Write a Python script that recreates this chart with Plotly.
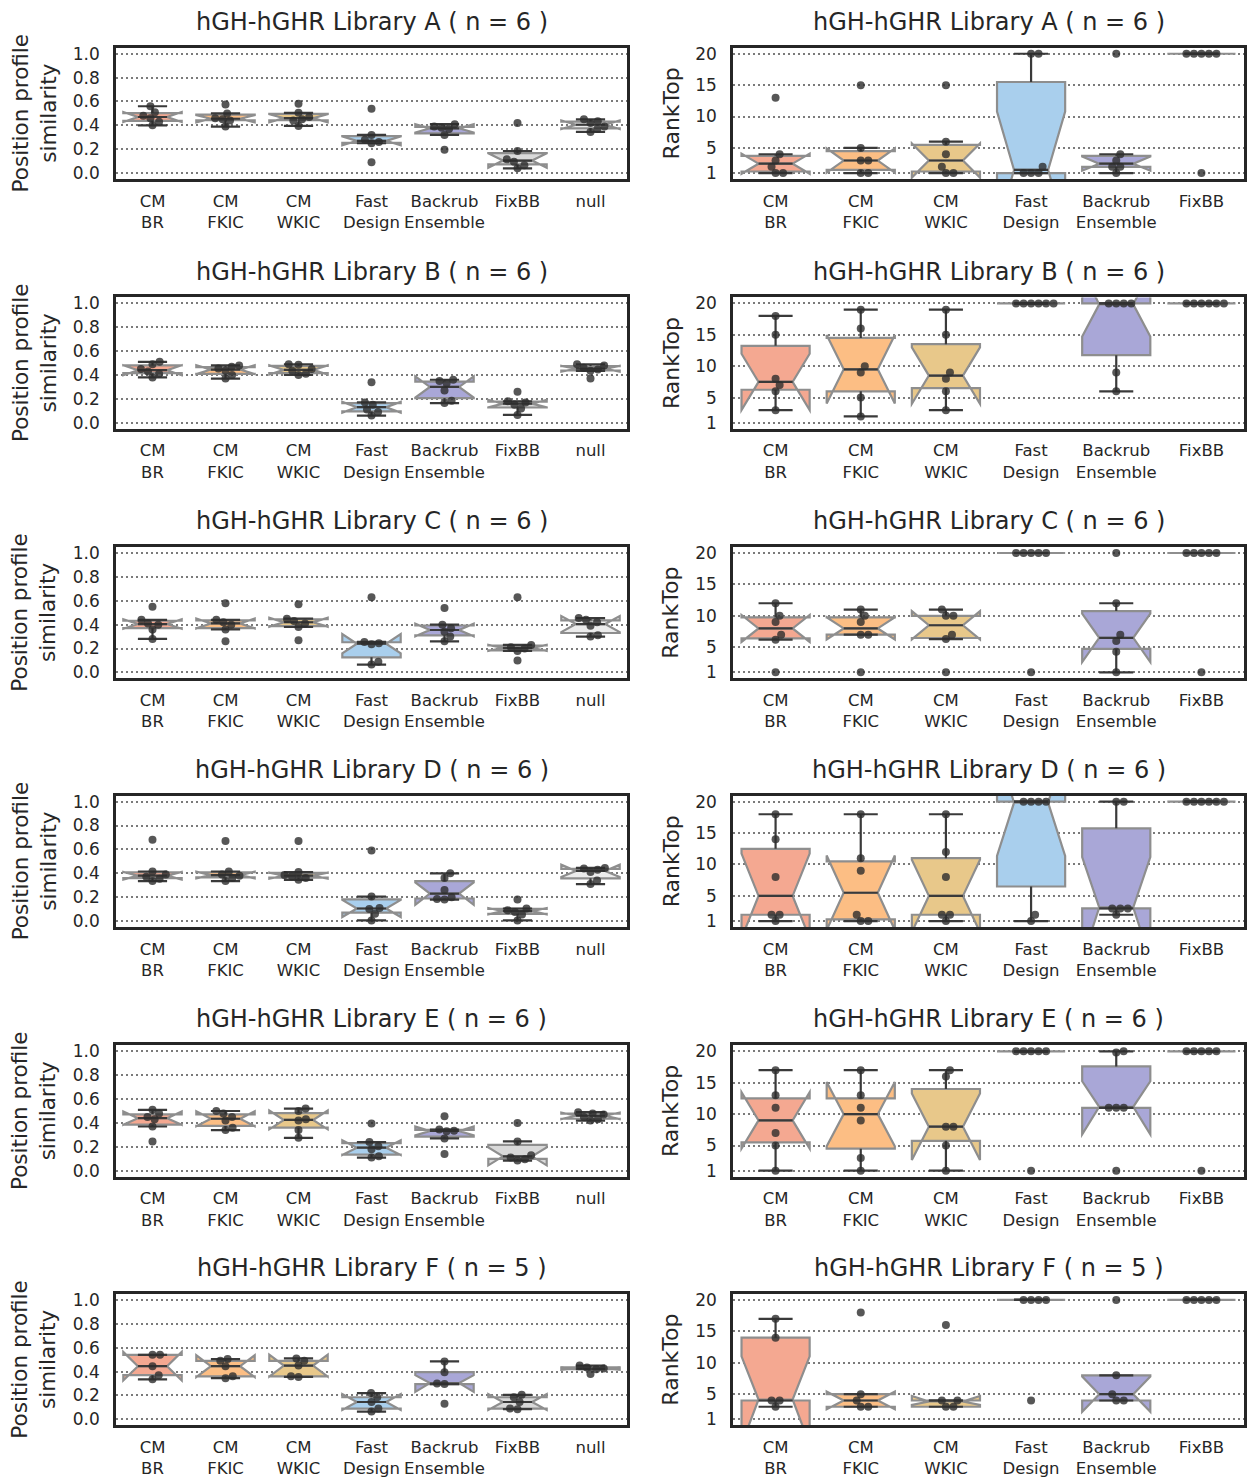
import numpy as np
import plotly.graph_objects as go
from plotly.subplots import make_subplots

# ---------------- data ----------------
SIM_CATS = ["CM<br>BR", "CM<br>FKIC", "CM<br>WKIC", "Fast<br>Design",
            "Backrub<br>Ensemble", "FixBB", "null"]
RANK_CATS = SIM_CATS[:6]
LIBS = ["A", "B", "C", "D", "E", "F"]
N_DESIGNS = [6, 6, 6, 6, 6, 5]
SIM_TICKS = [0.0, 0.2, 0.4, 0.6, 0.8, 1.0]
SIM_TICKTEXT = ["0.0", "0.2", "0.4", "0.6", "0.8", "1.0"]
RANK_TICKS = [1, 5, 10, 15, 20]

# Position profile similarity, per library: CM BR, CM FKIC, CM WKIC, Fast Design, Backrub Ens., FixBB, null
SIM_A = [[0.40, 0.43, 0.46, 0.48, 0.51, 0.56],
         [0.39, 0.44, 0.45, 0.46, 0.50, 0.575],
         [0.395, 0.44, 0.45, 0.47, 0.505, 0.58],
         [0.09, 0.25, 0.26, 0.28, 0.32, 0.54],
         [0.195, 0.32, 0.37, 0.38, 0.39, 0.41],
         [0.04, 0.065, 0.095, 0.115, 0.185, 0.42],
         [0.345, 0.37, 0.39, 0.42, 0.435, 0.45]]
SIM_B = [[0.38, 0.41, 0.43, 0.45, 0.49, 0.51],
         [0.37, 0.40, 0.435, 0.455, 0.47, 0.48],
         [0.40, 0.41, 0.435, 0.45, 0.485, 0.49],
         [0.06, 0.09, 0.11, 0.15, 0.17, 0.34],
         [0.165, 0.185, 0.27, 0.33, 0.35, 0.36],
         [0.065, 0.12, 0.15, 0.17, 0.18, 0.26],
         [0.37, 0.435, 0.445, 0.46, 0.48, 0.49]]
SIM_C = [[0.28, 0.36, 0.40, 0.41, 0.44, 0.55],
         [0.26, 0.36, 0.40, 0.42, 0.44, 0.58],
         [0.27, 0.38, 0.41, 0.43, 0.45, 0.57],
         [0.065, 0.09, 0.235, 0.245, 0.255, 0.63],
         [0.26, 0.30, 0.34, 0.37, 0.40, 0.54],
         [0.10, 0.18, 0.20, 0.21, 0.23, 0.63],
         [0.30, 0.31, 0.39, 0.42, 0.44, 0.455]]
SIM_D = [[0.335, 0.355, 0.37, 0.39, 0.415, 0.68],
         [0.335, 0.36, 0.38, 0.39, 0.415, 0.67],
         [0.345, 0.36, 0.375, 0.385, 0.41, 0.67],
         [0.005, 0.06, 0.10, 0.11, 0.205, 0.59],
         [0.18, 0.185, 0.20, 0.26, 0.36, 0.40],
         [0.005, 0.055, 0.075, 0.09, 0.105, 0.18],
         [0.31, 0.34, 0.41, 0.43, 0.44, 0.445]]
SIM_E = [[0.245, 0.37, 0.43, 0.45, 0.48, 0.51],
         [0.34, 0.36, 0.42, 0.45, 0.48, 0.50],
         [0.275, 0.34, 0.42, 0.43, 0.50, 0.52],
         [0.11, 0.12, 0.18, 0.205, 0.24, 0.395],
         [0.14, 0.27, 0.33, 0.335, 0.345, 0.455],
         [0.085, 0.095, 0.11, 0.13, 0.245, 0.40],
         [0.42, 0.43, 0.45, 0.47, 0.48, 0.49]]
SIM_F = [[0.335, 0.37, 0.445, 0.54, 0.54],
         [0.345, 0.36, 0.445, 0.49, 0.505],
         [0.355, 0.36, 0.45, 0.49, 0.51],
         [0.065, 0.09, 0.145, 0.185, 0.22],
         [0.13, 0.295, 0.30, 0.395, 0.485],
         [0.085, 0.09, 0.145, 0.185, 0.205],
         [0.38, 0.42, 0.425, 0.435, 0.45]]

# RankTop, per library: CM BR, CM FKIC, CM WKIC, Fast Design, Backrub Ens., FixBB
RANK_A = [[1, 1, 2, 3, 4, 13],
          [1, 1, 3, 3, 5, 15],
          [1, 1, 2, 4, 6, 15],
          [1, 1, 1, 2, 20, 20],
          [1, 2, 2, 3, 4, 20],
          [1, 20, 20, 20, 20, 20]]
RANK_B = [[3, 6, 7, 8, 15, 18],
          [2, 5, 9, 10, 16, 19],
          [3, 6, 8, 9, 15, 19],
          [20, 20, 20, 20, 20, 20],
          [6, 9, 20, 20, 20, 20],
          [20, 20, 20, 20, 20, 20]]
RANK_C = [[1, 6.2, 7, 9, 10, 12],
          [1, 7, 7, 9, 10, 11],
          [1, 6.3, 7, 10, 10, 11],
          [1, 20, 20, 20, 20, 20],
          [1, 4.3, 6, 7, 12, 20],
          [1, 20, 20, 20, 20, 20]]
RANK_D = [[1, 2, 2, 8, 14, 18],
          [1, 1, 2, 9, 11, 18],
          [1, 2, 2, 8, 12, 18],
          [1, 2, 20, 20, 20, 20],
          [2, 3, 3, 3, 20, 20],
          [20, 20, 20, 20, 20, 20]]
RANK_E = [[1, 5, 7, 11, 13, 17],
          [1, 3, 9, 11, 13, 17],
          [1, 5, 8, 8, 16, 17],
          [1, 20, 20, 20, 20, 20],
          [1, 11, 11, 11, 19.8, 20],
          [1, 20, 20, 20, 20, 20]]
RANK_F = [[3, 4, 4, 14, 17],
          [3, 3, 4, 5, 18],
          [3, 3, 4, 4, 16],
          [4, 20, 20, 20, 20],
          [4, 4, 5, 8, 20],
          [20, 20, 20, 20, 20]]

SIM_DATA = [SIM_A, SIM_B, SIM_C, SIM_D, SIM_E, SIM_F]
RANK_DATA = [RANK_A, RANK_B, RANK_C, RANK_D, RANK_E, RANK_F]

# ---------------- style ----------------
FILLS = ["#f4a891", "#fcbe84", "#e8c88a", "#a9cfed", "#a9a7d7", "#d9d9d9", "#ececec"]
BOX_EDGE = "#8e8e8e"
DARK = "#3a3a3a"
PT_COLOR = "rgba(45,45,45,0.8)"
FONT = "DejaVu Sans"
TXT = "#262626"

W, H = 1247, 1483
LEFT_X = (116, 627)
RIGHT_X = (733, 1244)
ROW_TOP = [44, 295, 546, 796, 1047, 1297]
ROW_H = 132
BOXW = 0.8
SIM_RANGE = [-0.05, 1.05]
RANK_RANGE = [0.05, 20.95]
PT_D = 7.5  # swarm spacing in px


def box_stats(v):
    a = np.sort(np.asarray(v, float))
    q1, med, q3 = np.percentile(a, [25, 50, 75])
    iqr = q3 - q1
    lo_c = a[a >= q1 - 1.5 * iqr]
    hi_c = a[a <= q3 + 1.5 * iqr]
    lo = min(lo_c.min(), q1) if len(lo_c) else q1
    hi = max(hi_c.max(), q3) if len(hi_c) else q3
    notch = 1.57 * iqr / np.sqrt(len(a))
    return q1, med, q3, lo, hi, notch


def swarm(vals, ypx, xpx, d=PT_D):
    vals = np.asarray(vals, float)
    order = np.argsort(vals, kind="stable")
    placed = []
    offs = np.zeros(len(vals))
    for i in order:
        y = vals[i] * ypx
        cands = [0.0]
        for px, py in placed:
            dy = abs(y - py)
            if dy < d:
                dx = np.sqrt(d * d - dy * dy)
                cands += [px + dx, px - dx]
        cands = sorted(set(round(c, 6) for c in cands), key=lambda c: (abs(c), -c))
        chosen = cands[-1]
        for c in cands:
            if all((c - px) ** 2 + (y - py) ** 2 >= d * d - 1e-6 for px, py in placed):
                chosen = c
                break
        placed.append((chosen, y))
        offs[i] = chosen / xpx
    return offs


fig = make_subplots(rows=6, cols=2)


def add_panel(r, c, data, cats, yrange):
    ncat = len(cats)
    xpx = (LEFT_X[1] - LEFT_X[0]) / ncat
    ypx = ROW_H / (yrange[1] - yrange[0])
    lx, ly = [], []
    px_all, py_all = [], []
    for i, vals in enumerate(data):
        q1, med, q3, lo, hi, ns = box_stats(vals)
        fig.add_trace(go.Box(x=[i], q1=[q1], median=[med], q3=[q3],
                             lowerfence=[q1], upperfence=[q3], notchspan=[ns],
                             notched=True, notchwidth=0.25, width=BOXW,
                             showwhiskers=False, whiskerwidth=0, boxpoints=False,
                             fillcolor=FILLS[i], line=dict(color=BOX_EDGE, width=2.2),
                             hoverinfo="skip", showlegend=False), row=r, col=c)
        hw = BOXW / 4
        lx += [i, i, None, i - hw, i + hw, None, i, i, None, i - hw, i + hw, None,
               i - hw, i + hw, None]
        ly += [q3, hi, None, hi, hi, None, q1, lo, None, lo, lo, None,
               med, med, None]
        offs = swarm(vals, ypx, xpx)
        px_all += list(i + offs)
        py_all += list(vals)
    fig.add_trace(go.Scatter(x=lx, y=ly, mode="lines",
                             line=dict(color=DARK, width=2.2),
                             hoverinfo="skip", showlegend=False), row=r, col=c)
    fig.add_trace(go.Scatter(x=px_all, y=py_all, mode="markers",
                             marker=dict(size=8, color=PT_COLOR, line=dict(width=0)),
                             hoverinfo="skip", showlegend=False), row=r, col=c)


for r in range(6):
    add_panel(r + 1, 1, SIM_DATA[r], SIM_CATS, SIM_RANGE)
    add_panel(r + 1, 2, RANK_DATA[r], RANK_CATS, RANK_RANGE)

ann = []
for r in range(6):
    top = ROW_TOP[r]
    y0 = 1 - (top + ROW_H) / H
    y1 = 1 - top / H
    for c in range(2):
        k = r * 2 + c + 1
        xs = LEFT_X if c == 0 else RIGHT_X
        cats = SIM_CATS if c == 0 else RANK_CATS
        xname = "xaxis" if k == 1 else f"xaxis{k}"
        yname = "yaxis" if k == 1 else f"yaxis{k}"
        fig.layout[xname].update(
            domain=[xs[0] / W, xs[1] / W], range=[-0.5, len(cats) - 0.5],
            tickmode="array", tickvals=list(range(len(cats))), ticktext=cats,
            showgrid=False, zeroline=False, showline=True, mirror=True,
            linecolor=TXT, linewidth=2.6, ticks="", ticklabelstandoff=5,
            tickfont=dict(family=FONT, size=16.5, color=TXT), fixedrange=True)
        if c == 0:
            yt = dict(tickvals=SIM_TICKS, ticktext=SIM_TICKTEXT, range=SIM_RANGE)
        else:
            yt = dict(tickvals=RANK_TICKS, ticktext=[str(t) for t in RANK_TICKS],
                      range=RANK_RANGE)
        fig.layout[yname].update(
            domain=[y0, y1], tickmode="array", **yt,
            showgrid=True, gridcolor="#7a7a7a", gridwidth=1.8, griddash="2px,3px",
            zeroline=False, showline=True, mirror=True, linecolor=TXT,
            linewidth=2.6, ticks="", ticklabelstandoff=10,
            tickfont=dict(family=FONT, size=17, color=TXT), fixedrange=True)
        ann.append(dict(text=f"hGH-hGHR Library {LIBS[r]} ( n = {N_DESIGNS[r]} )",
                        x=(xs[0] + xs[1]) / 2 / W, y=1 - (top - 26) / H,
                        xref="paper", yref="paper", showarrow=False,
                        xanchor="center", yanchor="middle",
                        font=dict(family=FONT, size=24, color=TXT)))
    ann.append(dict(text="Position profile<br>similarity", x=34 / W,
                    y=1 - (top + ROW_H / 2) / H, xref="paper", yref="paper",
                    showarrow=False, textangle=-90, xanchor="center", yanchor="middle",
                    font=dict(family=FONT, size=21.5, color=TXT)))
    ann.append(dict(text="RankTop", x=671 / W,
                    y=1 - (top + ROW_H / 2) / H, xref="paper", yref="paper",
                    showarrow=False, textangle=-90, xanchor="center", yanchor="middle",
                    font=dict(family=FONT, size=22, color=TXT)))

fig.update_layout(width=W, height=H, margin=dict(l=0, r=0, t=0, b=0),
                  paper_bgcolor="white", plot_bgcolor="white",
                  showlegend=False, annotations=ann, boxmode="overlay",
                  font=dict(family=FONT, color=TXT))

fig.write_html("out.html", config={"displayModeBar": False},
               post_script="document.body.style.margin='0';document.body.style.overflow='hidden';")
